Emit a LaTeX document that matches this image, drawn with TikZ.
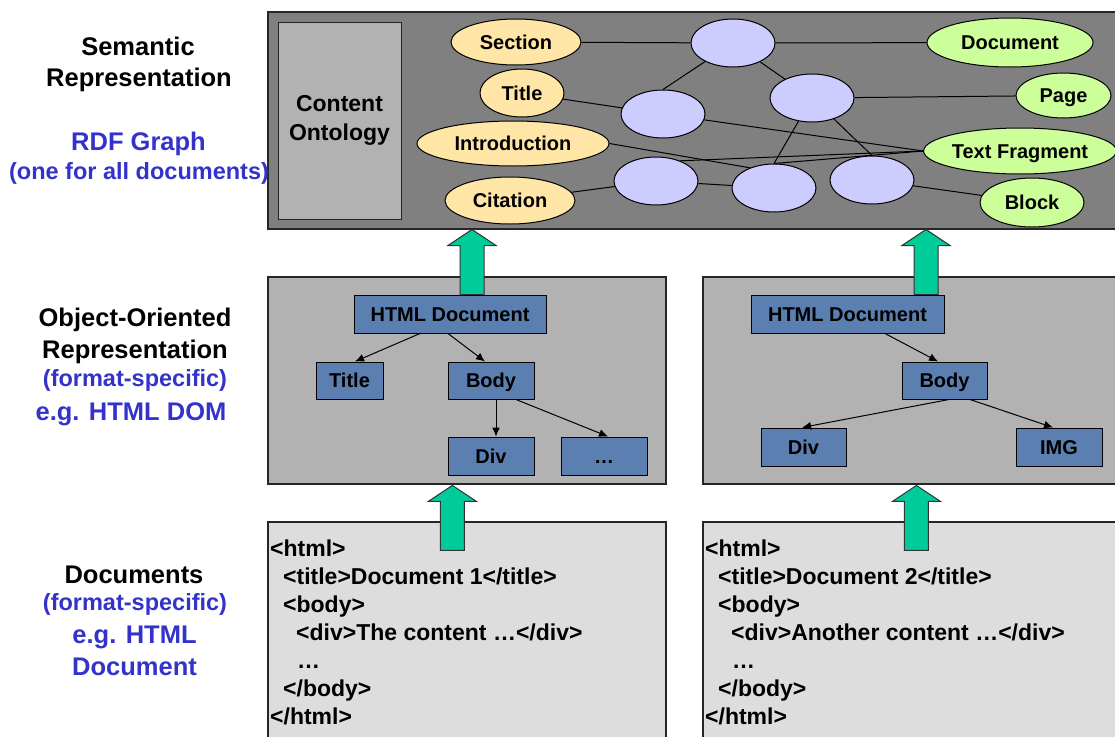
\documentclass[tikz,border=0pt]{standalone}
\usepackage{fontspec}
\setmainfont{Liberation Sans}
\usetikzlibrary{shapes.geometric,arrows.meta,calc}

\definecolor{topgray}{HTML}{808080}
\definecolor{ontgray}{HTML}{B2B2B2}
\definecolor{midgray}{HTML}{B2B2B2}
\definecolor{docgray}{HTML}{DDDDDD}
\definecolor{domblue}{HTML}{5A7FB0}
\definecolor{peach}{HTML}{FFE6A6}
\definecolor{lime}{HTML}{CCFF99}
\definecolor{lav}{HTML}{CCCCFF}
\definecolor{arrowgreen}{HTML}{00CC99}
\definecolor{lblblue}{HTML}{3333CC}

\begin{document}
\begin{tikzpicture}[x=1pt,y=-1pt,
  panel/.style={rectangle, draw=black!85, line width=1.2pt, inner sep=0pt},
  ell/.style={ellipse, draw=black, line width=1pt, inner sep=0pt,
    font=\fontsize{20}{24}\selectfont\bfseries, text height=14.5pt, text depth=0pt},
  ov/.style={ell, fill=peach},
  gv/.style={ell, fill=lime},
  bv/.style={ell, fill=lav, minimum width=84pt, minimum height=48pt},
  gedge/.style={line width=1pt, black},
  dom/.style={rectangle, draw=black, line width=1pt, fill=domblue, inner sep=0pt,
    font=\fontsize{20}{24}\selectfont\bfseries, text height=14.5pt, text depth=0pt,
    minimum height=38pt},
  domarrow/.style={line width=1pt, -{Latex[length=9pt,width=8pt]}},
  code/.style={anchor=base west, inner sep=0pt, font=\fontsize{23}{28}\selectfont\bfseries},
  headlbl/.style={anchor=base, inner sep=0pt, font=\fontsize{25.5}{30}\selectfont\bfseries},
  biglbl/.style={headlbl, text=lblblue},
  sublbl/.style={anchor=base, inner sep=0pt, text=lblblue, font=\fontsize{23.5}{28}\selectfont\bfseries},
  blockup/.pic={\draw[line width=1pt, draw=black!80, fill=arrowgreen]
      (-12,0) -- (-12,-49) -- (-24,-49) -- (0,-65) -- (24,-49) -- (12,-49) -- (12,0) -- cycle;}
]
\useasboundingbox (0,0) rectangle (1115,736);

% ---------- panels ----------
\node[panel, fill=topgray, minimum width=857pt, minimum height=217pt] (sempanel) at (696.5,120.5) {};
\node[panel, fill=midgray, minimum width=398pt, minimum height=207pt] (dompanel1) at (467,380.5) {};
\node[panel, fill=midgray, minimum width=422pt, minimum height=207pt] (dompanel2) at (914,380.5) {};
\node[panel, fill=docgray, minimum width=398pt, minimum height=228pt] (docpanel1) at (467,636) {};
\node[panel, fill=docgray, minimum width=422pt, minimum height=228pt] (docpanel2) at (914,636) {};

% ---------- content ontology ----------
\node[panel, fill=ontgray, line width=1pt, minimum width=123pt, minimum height=197pt,
      align=center, font=\fontsize{23}{29}\selectfont\bfseries] (onto) at (339.5,120.5) {Content\\Ontology};

% ---------- RDF graph ----------
\node[ov, minimum width=130pt, minimum height=46pt] (sec) at (516,42) {Section};
\node[ov, minimum width=84pt, minimum height=48pt] (tit) at (522,93) {Title};
\node[ov, minimum width=192pt, minimum height=45pt] (intro) at (513,143.5) {Introduction};
\node[ov, minimum width=130pt, minimum height=47pt] (cit) at (510,200.5) {Citation};

\node[gv, minimum width=166pt, minimum height=49pt] (doc) at (1010,42.5) {Document};
\node[gv, minimum width=95pt, minimum height=45pt] (page) at (1063.5,95.5) {Page};
\node[gv, minimum width=192pt, minimum height=46pt] (tf) at (1020,151) {Text Fragment};
\node[gv, minimum width=104pt, minimum height=49pt] (blk) at (1032,202.5) {Block};

\node[bv] (c1) at (733,43) {};
\node[bv] (c2) at (812,98) {};
\node[bv] (c3) at (663,114) {};
\node[bv] (c4) at (656,181) {};
\node[bv] (c5) at (774,188) {};
\node[bv] (c6) at (872,180) {};

\draw[gedge] (sec) -- (c1);
\draw[gedge] (c1) -- (doc);
\draw[gedge] (c1) -- (c3.north);
\draw[gedge] (c1) -- (c2);
\draw[gedge] (c2) -- (page);
\draw[gedge] (tit) -- (c3);
\draw[gedge] (c3) -- (tf.west);
\draw[gedge] (intro.east) -- (c5.140);
\draw[gedge] (c4.40) -- (tf.west);
\draw[gedge] (c5.north) -- (tf.west);
\draw[gedge] (c2) -- (c5.north);
\draw[gedge] (c2) -- (c6.north);
\draw[gedge] (cit) -- (c4);
\draw[gedge] (c4) -- (c5);
\draw[gedge] (c6) -- (blk);

% ---------- DOM trees ----------
\node[dom, minimum width=192pt] (hd1) at (450,314) {HTML Document};
\node[dom, minimum width=67pt, minimum height=37pt] (ti1) at (349.5,380.5) {Title};
\node[dom, minimum width=86pt, minimum height=37pt] (bo1) at (491,380.5) {Body};
\node[dom, minimum width=86pt] (dv1) at (491,456) {Div};
\node[dom, minimum width=86pt] (et1) at (604,456) {…};

\draw[domarrow] ($(hd1.south)+(-30,0)$) -- ($(ti1.north)+(5.5,0)$);
\draw[domarrow] ($(hd1.south)+(-2,0)$) -- ($(bo1.north)+(-6,0)$);
\draw[domarrow] ($(bo1.south)+(5,0)$) -- ($(dv1.north)+(5,0)$);
\draw[domarrow] ($(bo1.south)+(25,0)$) -- ($(et1.north)+(4,0)$);

\node[dom, minimum width=193pt] (hd2) at (847.5,314) {HTML Document};
\node[dom, minimum width=85pt, minimum height=37pt] (bo2) at (944.5,380.5) {Body};
\node[dom, minimum width=85pt] (dv2) at (803.5,447) {Div};
\node[dom, minimum width=86pt] (im2) at (1059,447) {IMG};

\draw[domarrow] ($(hd2.south)+(37.5,0)$) -- ($(bo2.north)+(-6.5,0)$);
\draw[domarrow] ($(bo2.south)+(4.5,0)$) -- ($(dv2.north)+(-1.5,0)$);
\draw[domarrow] ($(bo2.south)+(25.5,0)$) -- ($(im2.north)+(-6,0)$);

% ---------- transformation arrows ----------
\pic at ($(hd1.north)+(22,0)$) {blockup};
\pic at ($(hd2.north)+(78.5,0)$) {blockup};
\pic at ($(docpanel1.north west)+(185,29)$) {blockup};
\pic at ($(docpanel2.north west)+(214,29)$) {blockup};

% ---------- HTML sources ----------
\node[code] (s1a) at (270,556) {<html>};
\node[code] (s1b) at (283,584) {<title>Document 1</title>};
\node[code] (s1c) at (283,612) {<body>};
\node[code] (s1d) at (296,640) {<div>The content …</div>};
\node[code] (s1e) at (297,668) {…};
\node[code] (s1f) at (283,696) {</body>};
\node[code] (s1g) at (270,724) {</html>};

\node[code] (s2a) at (705,556) {<html>};
\node[code] (s2b) at (718,584) {<title>Document 2</title>};
\node[code] (s2c) at (718,612) {<body>};
\node[code] (s2d) at (731,640) {<div>Another content …</div>};
\node[code] (s2e) at (732,668) {…};
\node[code] (s2f) at (718,696) {</body>};
\node[code] (s2g) at (705,724) {</html>};

% ---------- level captions ----------
\node[headlbl] (l1a) at (138,55) {Semantic};
\node[headlbl] (l1b) at (139,86) {Representation};
\node[biglbl] (l1c) at (138.5,150) {RDF Graph};
\node[sublbl] (l1d) at (139,179) {(one for all documents)};

\node[headlbl] (l2a) at (135,326.5) {Object-Oriented};
\node[headlbl] (l2b) at (135,358) {Representation};
\node[sublbl] (l2c) at (135,386.5) {(format-specific)};
\node[biglbl] (l2d) at (131,420) {e.g. HTML DOM};

\node[headlbl] (l3a) at (134,583) {Documents};
\node[sublbl] (l3b) at (135,610) {(format-specific)};
\node[biglbl] (l3c) at (134.5,643) {e.g. HTML};
\node[biglbl] (l3d) at (134.5,675) {Document};
\end{tikzpicture}
\end{document}
